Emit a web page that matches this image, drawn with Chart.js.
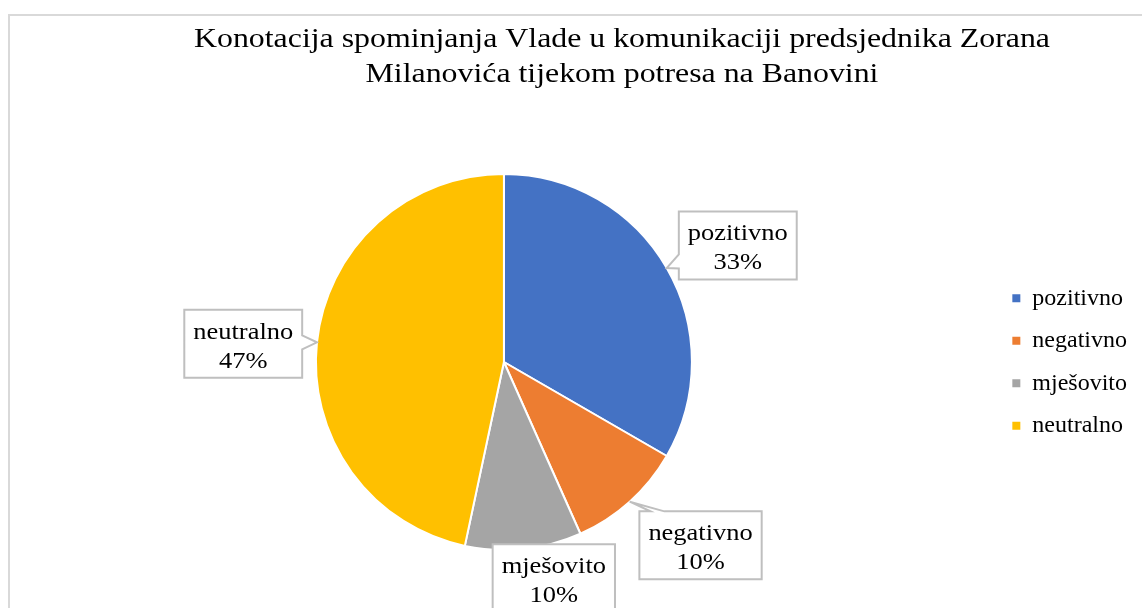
<!DOCTYPE html>
<html>
<head>
<meta charset="utf-8">
<script src="https://cdn.jsdelivr.net/npm/chart.js@4"></script>
<style>
  html, body { margin: 0; padding: 0; background: #fff; overflow: hidden; }
</style>
</head>
<body>
<canvas id="chart" width="1142" height="608"></canvas>
<script>
const categories = ["pozitivno", "negativno", "mješovito", "neutralno"];
const mentions = [10, 3, 3, 14];
const sliceColors = ["#4472C4", "#ED7D31", "#A5A5A5", "#FFC000"];
const titleLines = [
  "Konotacija spominjanja Vlade u komunikaciji predsjednika Zorana",
  "Milanovića tijekom potresa na Banovini"
];

const serif = "'Liberation Serif', 'Times New Roman', serif";

// outer frame + two line title (title is not centred on the plot, so drawn by hand)
const frameAndTitle = {
  id: "frameAndTitle",
  beforeDraw(chart) {
    const ctx = chart.ctx;
    ctx.save();
    ctx.strokeStyle = "#d9d9d9";
    ctx.lineWidth = 2;
    ctx.strokeRect(9, 15, chart.width + 50, chart.height + 50);
    ctx.fillStyle = "#000";
    ctx.font = "27px " + serif;
    ctx.textAlign = "center";
    ctx.textBaseline = "alphabetic";
    const stretch = 856 / ctx.measureText(titleLines[0]).width;
    titleLines.forEach((line, i) => {
      ctx.save();
      ctx.translate(622, 47 + i * 35);
      ctx.scale(stretch, 1);
      ctx.fillText(line, 0, 0);
      ctx.restore();
    });
    ctx.restore();
  }
};

// boxed data labels with a little pointer towards the slice
const callouts = {
  id: "callouts",
  afterDatasetsDraw(chart, args, opts) {
    const ctx = chart.ctx;
    const meta = chart.getDatasetMeta(0);
    const total = mentions.reduce((a, b) => a + b, 0);
    ctx.save();
    ctx.font = opts.fontSize + "px " + serif;
    meta.data.forEach((arc, i) => {
      const p = arc.getProps(["x", "y", "startAngle", "endAngle", "outerRadius"], true);
      const mid = (p.startAngle + p.endAngle) / 2;
      const place = opts.place[i];
      const a = mid + place[1] * Math.PI / 180;
      const cx = p.x + Math.cos(a) * p.outerRadius * place[0];
      const cy = p.y + Math.sin(a) * p.outerRadius * place[0];
      const lines = [categories[i], Math.round(mentions[i] / total * 100) + "%"];
      const tw = Math.max(...lines.map(l => ctx.measureText(l).width)) * opts.stretch;
      const w = tw + 2 * opts.padX;
      const h = opts.height;
      const L = cx - w / 2, R = cx + w / 2, T = cy - h / 2, B = cy + h / 2;
      const tip = { x: p.x + Math.cos(mid) * p.outerRadius, y: p.y + Math.sin(mid) * p.outerRadius };

      let side = null;
      if (tip.x < L || tip.x > R || tip.y < T || tip.y > B) {
        const dx = (tip.x - cx) / (w / 2);
        const dy = (tip.y - cy) / (h / 2);
        if (Math.abs(dx) > Math.abs(dy)) side = dx < 0 ? "left" : "right";
        else side = dy < 0 ? "top" : "bottom";
      }
      const clamp = (v, lo, hi) => Math.min(Math.max(v, lo), hi);
      const bx = clamp(tip.x, L + 18, R - 18);
      const by = clamp(tip.y, T + 18, B - 18);
      const hw = 7;

      ctx.beginPath();
      ctx.moveTo(L, T);
      if (side === "top") { ctx.lineTo(bx - hw, T); ctx.lineTo(tip.x, tip.y); ctx.lineTo(bx + hw, T); }
      ctx.lineTo(R, T);
      if (side === "right") { ctx.lineTo(R, by - hw); ctx.lineTo(tip.x, tip.y); ctx.lineTo(R, by + hw); }
      ctx.lineTo(R, B);
      if (side === "bottom") { ctx.lineTo(bx + hw, B); ctx.lineTo(tip.x, tip.y); ctx.lineTo(bx - hw, B); }
      ctx.lineTo(L, B);
      if (side === "left") { ctx.lineTo(L, by + hw); ctx.lineTo(tip.x, tip.y); ctx.lineTo(L, by - hw); }
      ctx.closePath();
      ctx.fillStyle = "#fff";
      ctx.fill();
      ctx.strokeStyle = "#bfbfbf";
      ctx.lineWidth = 2;
      ctx.stroke();

      ctx.fillStyle = "#000";
      ctx.textAlign = "center";
      ctx.textBaseline = "alphabetic";
      lines.forEach((line, j) => {
        ctx.save();
        ctx.translate(cx, cy - 5 + j * 29);
        ctx.scale(opts.stretch, 1);
        ctx.fillText(line, 0, 0);
        ctx.restore();
      });
    });
    ctx.restore();
  }
};

const chart = new Chart(document.getElementById("chart"), {
  type: "pie",
  data: {
    labels: categories,
    datasets: [{
      data: mentions,
      backgroundColor: sliceColors,
      borderColor: "#ffffff",
      borderWidth: 2,
      hoverOffset: 0
    }]
  },
  options: {
    responsive: false,
    animation: false,
    layout: { padding: { top: 173, bottom: 57, left: 14, right: 5 } },
    plugins: {
      title: { display: false },
      tooltip: { enabled: false },
      legend: {
        position: "right",
        align: "center",
        labels: {
          color: "#000",
          font: { family: serif, size: 24 },
          boxWidth: 8,
          boxHeight: 8,
          padding: 18.5,
          generateLabels(chart) {
            const items = Chart.overrides.pie.plugins.legend.labels.generateLabels(chart);
            items.forEach(it => { it.lineWidth = 0; });
            return items;
          }
        }
      },
      callouts: {
        fontSize: 23,
        stretch: 1.15,
        padX: 9,
        height: 68,
        // distance (in radii) and angle nudge (deg) of each label box
        place: [[1.39, 3.5], [1.43, -5], [1.18, -7], [1.39, -2]]
      }
    }
  },
  plugins: [frameAndTitle, callouts]
});
</script>
</body>
</html>
